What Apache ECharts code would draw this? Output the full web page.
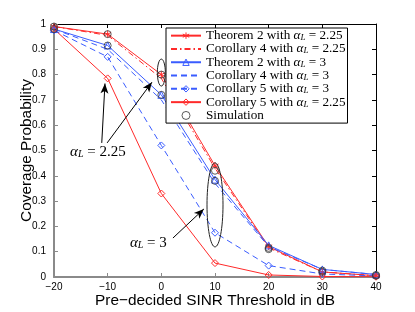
<!DOCTYPE html>
<html><head><meta charset="utf-8">
<script src="https://cdn.jsdelivr.net/npm/echarts@6/dist/echarts.min.js"></script>
<style>html,body{margin:0;padding:0;background:#fff}#c{width:415px;height:312px}</style>
</head><body><div id="c"></div>
<script>
const sinr = [-20, -10, 0, 10, 20, 30, 40];
const xTicks = [-20, -10, 0, 10, 20, 30, 40];
const thm2_225 = [0.99, 0.96, 0.80, 0.44, 0.12, 0.02, 0.005];
const cor4_225 = [0.99, 0.955, 0.785, 0.43, 0.115, 0.02, 0.005];
const thm2_3 = [0.98, 0.915, 0.72, 0.385, 0.125, 0.03, 0.01];
const cor4_3 = [0.98, 0.90, 0.70, 0.37, 0.12, 0.03, 0.01];
const cor5_3 = [0.975, 0.87, 0.52, 0.175, 0.045, 0.012, 0.004];
const cor5_225 = [0.98, 0.785, 0.33, 0.055, 0.008, 0.002, 0.001];
const sim_225 = [0.99, 0.96, 0.80, 0.42, 0.115, 0.02, 0.005];
const sim_3 = [0.98, 0.915, 0.72, 0.38, 0.11, 0.025, 0.008];
const names = ['Theorem 2 with αL = 2.25', 'Corollary 4 with αL = 2.25', 'Theorem 2 with αL = 3',
  'Corollary 4 with αL = 3', 'Corollary 5 with αL = 3', 'Corollary 5 with αL = 2.25', 'Simulation'];

const red = '#ff2a2a', blue = '#3a5cff';
const serif = 'Liberation Serif';
const pts = a => sinr.map((x, i) => [x, a[i]]);
const star = 'path://M0,-10L0,10M-8.66,-5L8.66,5M-8.66,5L8.66,-5';
const clear = 'rgba(255,255,255,0)';
const seriesColors = [red, red, blue, blue, blue, red, '#333'];
const seriesSymbols = [star, null, 'triangle', null, 'diamond', 'diamond', 'circle'];

function lineSeries(idx, data, type) {
  const color = seriesColors[idx], symbol = seriesSymbols[idx];
  return {
    name: names[idx], type: 'line', data: pts(data), z: 3,
    symbol: symbol || 'none', symbolSize: 7, showSymbol: !!symbol,
    lineStyle: { color, width: 1, type },
    itemStyle: symbol ? { color: symbol === star ? color : clear, borderColor: color, borderWidth: 1 }
                      : { color: clear, borderColor: clear, borderWidth: 0 },
    emphasis: { disabled: true }
  };
}
const LFS = 13.2, LLH = 13.3;
const rich = {
  t: { fontFamily: serif, fontSize: LFS, lineHeight: LLH, color: '#000' },
  a: { fontFamily: serif, fontSize: LFS, fontStyle: 'italic', lineHeight: LLH, color: '#000' },
  s: { fontFamily: serif, fontSize: 9, fontStyle: 'italic', lineHeight: 4, verticalAlign: 'bottom', color: '#000' }
};
function richName(n) {
  if (n.indexOf('αL') < 0) return '{t|' + n + '}';
  const p = n.split('αL');
  return '{t|' + p[0] + '}{a|α}{s|L}{t|' + p[1] + '}';
}
const legendData = names.map((n, i) => {
  const c = seriesColors[i], s = seriesSymbols[i];
  let itemStyle;
  if (!s) itemStyle = { color: clear, borderColor: clear, borderWidth: 0 };
  else if (s === star) itemStyle = { color: c, borderColor: c, borderWidth: 1 };
  else itemStyle = { color: clear, borderColor: c, borderWidth: 1 };
  return { name: n, itemStyle };
});

const chart = echarts.init(document.getElementById('c'), null, { renderer: 'canvas' });
const axisCommon = { type: 'value', splitLine: { show: false }, nameMoveOverlap: false };
chart.setOption({
  animation: false,
  grid: { left: 54, right: 39, top: 24, bottom: 35, containLabel: false, outerBoundsMode: 'none' },
  xAxis: [
    Object.assign({}, axisCommon, {
      min: -20, max: 40, interval: 10, position: 'bottom',
      axisLine: { onZero: false, lineStyle: { color: '#8a8a8a', width: 2 } },
      axisTick: { inside: true, length: 4, lineStyle: { color: '#8a8a8a' } },
      axisLabel: { color: '#000', fontSize: 10, fontFamily: 'Liberation Sans', margin: 5,
        formatter: v => xTicks.indexOf(v) >= 0 ? String(v).replace('-', '\u2212') : '' },
      name: 'Pre\u2212decided SINR Threshold in dB', nameLocation: 'middle', nameGap: 16,
      nameTextStyle: { color: '#000', fontSize: 15.4, fontFamily: 'Liberation Sans', verticalAlign: 'top' }
    }),
    Object.assign({}, axisCommon, {
      min: -20, max: 40, interval: 10, position: 'top',
      axisLine: { onZero: false, lineStyle: { color: '#000', width: 1 } },
      axisTick: { inside: true, length: 4, lineStyle: { color: '#000' } },
      axisLabel: { show: false }
    })
  ],
  yAxis: [
    Object.assign({}, axisCommon, {
      min: 0, max: 1, interval: 0.1, position: 'left',
      axisLine: { onZero: false, lineStyle: { color: '#8a8a8a', width: 2 } },
      axisTick: { inside: true, length: 4, lineStyle: { color: '#8a8a8a' } },
      axisLabel: { color: '#000', fontSize: 10, fontFamily: 'Liberation Sans', margin: 8 },
      name: 'Coverage Probability', nameLocation: 'middle', nameGap: 20, nameRotate: 90,
      nameTextStyle: { color: '#000', fontSize: 15.4, fontFamily: 'Liberation Sans' }
    }),
    Object.assign({}, axisCommon, {
      min: 0, max: 1, interval: 0.1, position: 'right',
      axisLine: { onZero: false, lineStyle: { color: '#000', width: 1 } },
      axisTick: { inside: true, length: 4, lineStyle: { color: '#000' } },
      axisLabel: { show: false }
    })
  ],
  legend: {
    data: legendData, orient: 'vertical', left: 166, top: 28,
    itemWidth: 30, itemHeight: 8, itemGap: 0, padding: [1, 2, 1, 4],
    backgroundColor: '#fff', borderColor: '#000', borderWidth: 1, borderRadius: 0,
    selectedMode: false,
    formatter: richName,
    textStyle: { fontFamily: serif, fontSize: LFS, lineHeight: LLH, color: '#000', rich }
  },
  series: [
    lineSeries(0, thm2_225, 'solid'),
    lineSeries(1, cor4_225, [6, 3, 1.5, 3]),
    lineSeries(2, thm2_3, 'solid'),
    lineSeries(3, cor4_3, [6, 4]),
    lineSeries(4, cor5_3, [6, 4]),
    lineSeries(5, cor5_225, 'solid'),
    { name: names[6], type: 'scatter', data: pts(sim_225), symbol: 'circle', symbolSize: 7, z: 5,
      itemStyle: { color: clear, borderColor: '#333', borderWidth: 1 } },
    { name: names[6], type: 'scatter', data: pts(sim_3), symbol: 'circle', symbolSize: 7, z: 5,
      itemStyle: { color: clear, borderColor: '#333', borderWidth: 1 } },
    { name: 'arrows', type: 'line', data: [], z: 6,
      markLine: { silent: true, symbol: ['none', 'arrow'], symbolSize: [6, 10], animation: false,
        label: { show: false }, lineStyle: { color: '#000', type: 'solid', width: 1 },
        data: [
          [{ coord: [-11.1, 0.53] }, { coord: [-10.5, 0.765] }],
          [{ coord: [-10.1, 0.53] }, { coord: [-1.75, 0.77] }],
          [{ coord: [2.16, 0.154] }, { coord: [7.93, 0.269] }]
        ] } }
  ]
});

const px = (x, y) => chart.convertToPixel({ xAxisIndex: 0, yAxisIndex: 0 }, [x, y]);
const e1 = px(0, 0.808), e2 = px(10, 0.285), t1 = px(-17.0, 0.494), t2 = px(-5.85, 0.134);
const annRich = {
  a: { fontFamily: serif, fontSize: 15, fontStyle: 'italic', lineHeight: 14, color: '#222' },
  s: { fontFamily: serif, fontSize: 10, fontStyle: 'italic', lineHeight: 4, verticalAlign: 'bottom', color: '#222' },
  t: { fontFamily: serif, fontSize: 15, lineHeight: 14, color: '#222' }
};
chart.setOption({
  graphic: [
    { type: 'ellipse', shape: { cx: e1[0], cy: e1[1], rx: 4, ry: 13.5 }, style: { fill: 'none', stroke: '#222', lineWidth: 1 }, z: 10 },
    { type: 'ellipse', shape: { cx: e2[0], cy: e2[1], rx: 8, ry: 42 }, style: { fill: 'none', stroke: '#222', lineWidth: 1 }, z: 10 },
    { type: 'text', x: t1[0], y: t1[1], style: { text: '{a|α}{s|L}{t| = 2.25}', rich: annRich, verticalAlign: 'middle' }, z: 10 },
    { type: 'text', x: t2[0], y: t2[1], style: { text: '{a|α}{s|L}{t| = 3}', rich: annRich, verticalAlign: 'middle' }, z: 10 }
  ]
});
</script></body></html>
